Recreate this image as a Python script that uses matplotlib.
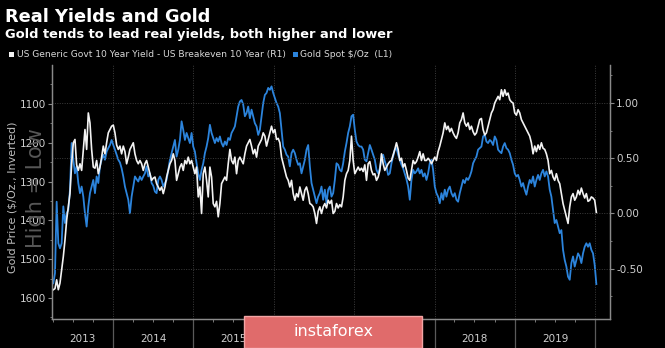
import numpy as np
import pandas as pd
import matplotlib
matplotlib.use("Agg")
import matplotlib.pyplot as plt
import matplotlib.dates as mdates
from matplotlib.patches import Rectangle
from matplotlib.ticker import FixedLocator, FormatStrFormatter, NullFormatter

plt.rcParams['axes.unicode_minus'] = False
plt.rcParams['font.family'] = ['DejaVu Sans']

# ---------------- data ----------------
start_date = '2013-04-04'
end_date = '2020-01-06'

gold = [
    1562, 1536, 1352, 1459, 1472, 1459, 1364, 1407, 1382, 1373,
    1321, 1201, 1244, 1279, 1261, 1304, 1330, 1313, 1339, 1382,
    1416, 1364, 1330, 1313, 1296, 1330, 1287, 1304, 1261, 1244,
    1231, 1244, 1223, 1214, 1206, 1193, 1206, 1218, 1231, 1244,
    1251, 1266, 1287, 1313, 1330, 1347, 1382, 1339, 1313, 1287,
    1294, 1300,
    1287, 1296, 1287, 1279, 1261, 1287, 1279, 1304, 1311, 1326,
    1330, 1296, 1287, 1296, 1313, 1304, 1296, 1270, 1244, 1227,
    1210, 1193, 1236, 1218, 1193, 1145, 1167, 1193, 1175, 1188,
    1201, 1175, 1210, 1223, 1253, 1279, 1296, 1270, 1253, 1227,
    1210, 1188, 1154, 1175, 1188, 1201, 1188, 1197, 1184, 1201,
    1210, 1197, 1206, 1188,
    1193, 1175, 1167, 1158, 1132, 1107, 1094, 1090, 1102, 1132,
    1124, 1107, 1137, 1115, 1132, 1150, 1158, 1180, 1167, 1132,
    1098, 1077, 1072, 1059, 1064, 1055, 1072, 1085, 1098, 1107,
    1124, 1167, 1210, 1218, 1231, 1236, 1261, 1227, 1218, 1227,
    1244, 1257, 1253, 1279, 1261, 1244, 1218, 1206, 1261, 1304,
    1321, 1339, 1356, 1339,
    1330, 1313, 1347, 1321, 1356, 1321, 1313, 1339, 1330, 1296,
    1253, 1257, 1270, 1274, 1253, 1223, 1201, 1175, 1158, 1132,
    1128, 1167, 1197, 1206, 1210, 1210, 1218, 1244, 1248, 1227,
    1206, 1218, 1231, 1244, 1270, 1279, 1266, 1244, 1231, 1248,
    1261, 1283, 1279, 1253, 1236, 1218, 1214, 1231, 1244, 1257,
    1266, 1280, 1294, 1313,
    1347, 1296, 1270, 1279, 1274, 1266, 1279, 1270, 1287, 1279,
    1296, 1279, 1253, 1244, 1270, 1313, 1330, 1339, 1356, 1330,
    1347, 1321, 1339, 1321, 1313, 1330, 1339, 1330, 1347, 1352,
    1330, 1313, 1296, 1304, 1291, 1296, 1287, 1274, 1253, 1244,
    1236, 1218, 1214, 1210, 1184, 1180, 1197, 1201, 1193, 1197,
    1206, 1184, 1193, 1218,
    1223, 1227, 1210, 1201, 1214, 1218, 1227, 1244, 1257, 1279,
    1287, 1283, 1296, 1313, 1304, 1321, 1334, 1313, 1296, 1304,
    1287, 1313, 1296, 1283, 1296, 1279, 1270, 1287, 1274, 1287,
    1321, 1339, 1373, 1407, 1399, 1416, 1433, 1425, 1476, 1502,
    1519, 1545, 1553, 1510, 1493, 1519, 1502, 1485, 1493, 1510,
    1485, 1468, 1459, 1468, 1459, 1476, 1485, 1515, 1564,
]

real_yield = [
    -0.69, -0.68, -0.60, -0.69, -0.63, -0.51, -0.39, -0.24, -0.06, 0.06,
    0.18, 0.45, 0.64, 0.67, 0.44, 0.39, 0.45, 0.39, 0.58, 0.76,
    0.58, 0.91, 0.82, 0.58, 0.42, 0.41, 0.48, 0.36, 0.42, 0.51,
    0.61, 0.54, 0.64, 0.73, 0.76, 0.79, 0.80, 0.73, 0.62, 0.58,
    0.61, 0.54, 0.61, 0.56, 0.45, 0.51, 0.58, 0.61, 0.64, 0.54,
    0.48, 0.45,
    0.48, 0.45, 0.39, 0.45, 0.48, 0.42, 0.36, 0.30, 0.32, 0.33,
    0.27, 0.24, 0.21, 0.24, 0.18, 0.24, 0.33, 0.39, 0.45, 0.48,
    0.54, 0.48, 0.30, 0.36, 0.42, 0.45, 0.39, 0.48, 0.45, 0.51,
    0.45, 0.48, 0.42, 0.36, 0.42, 0.15, 0.24, 0.00, 0.36, 0.42,
    0.30, 0.15, 0.42, 0.33, 0.09, 0.06, 0.11, -0.03, 0.09, 0.27,
    0.30, 0.33, 0.30, 0.45,
    0.58, 0.48, 0.45, 0.51, 0.36, 0.48, 0.51, 0.48, 0.45, 0.54,
    0.61, 0.64, 0.67, 0.61, 0.54, 0.58, 0.51, 0.61, 0.64, 0.67,
    0.73, 0.70, 0.61, 0.67, 0.73, 0.79, 0.73, 0.76, 0.67, 0.68,
    0.64, 0.51, 0.45, 0.39, 0.33, 0.30, 0.24, 0.30, 0.18, 0.12,
    0.18, 0.15, 0.24, 0.18, 0.12, 0.21, 0.24, 0.18, 0.09, 0.08,
    0.06, 0.00, -0.09, 0.02,
    0.06, 0.00, 0.06, 0.09, 0.05, 0.12, 0.09, 0.12, 0.00, 0.02,
    0.09, 0.05, 0.08, 0.06, 0.15, 0.30, 0.36, 0.39, 0.48, 0.70,
    0.48, 0.36, 0.39, 0.42, 0.39, 0.41, 0.38, 0.44, 0.30, 0.45,
    0.47, 0.39, 0.35, 0.36, 0.30, 0.33, 0.39, 0.54, 0.45, 0.39,
    0.42, 0.45, 0.47, 0.48, 0.53, 0.58, 0.64, 0.58, 0.48, 0.50,
    0.42, 0.45, 0.39, 0.32,
    0.30, 0.39, 0.48, 0.45, 0.47, 0.51, 0.56, 0.48, 0.54, 0.48,
    0.48, 0.50, 0.48, 0.45, 0.48, 0.51, 0.48, 0.56, 0.61, 0.67,
    0.73, 0.82, 0.76, 0.79, 0.74, 0.77, 0.73, 0.70, 0.68, 0.73,
    0.82, 0.85, 0.91, 0.82, 0.79, 0.82, 0.76, 0.79, 0.74, 0.71,
    0.73, 0.79, 0.85, 0.86, 0.76, 0.71, 0.73, 0.79, 0.85, 0.91,
    0.94, 1.00, 1.03, 1.06,
    1.03, 1.12, 1.06, 1.12, 1.07, 1.09, 1.03, 1.01, 1.00, 0.91,
    0.89, 0.94, 0.91, 0.85, 0.82, 0.79, 0.76, 0.73, 0.70, 0.64,
    0.54, 0.61, 0.56, 0.62, 0.58, 0.64, 0.59, 0.58, 0.54, 0.48,
    0.36, 0.39, 0.33, 0.30, 0.36, 0.30, 0.27, 0.18, 0.09, 0.03,
    -0.03, -0.09, 0.06, 0.15, 0.18, 0.12, 0.15, 0.21, 0.17, 0.23,
    0.18, 0.14, 0.18, 0.11, 0.12, 0.15, 0.14, 0.12, 0.01,
]

gold_ticks = [1100, 1200, 1300, 1400, 1500, 1600]
yield_ticks = [-0.50, 0.00, 0.50, 1.00]
year_labels = ['2013', '2014', '2015', '2016', '2017', '2018', '2019']

title = 'Real Yields and Gold'
subtitle = 'Gold tends to lead real yields, both higher and lower'
legend_white = 'US Generic Govt 10 Year Yield - US Breakeven 10 Year (R1)'
legend_blue = 'Gold Spot $/Oz  (L1)'

gold_dates = pd.date_range(start_date, end_date, periods=len(gold))
yield_dates = pd.date_range(start_date, end_date, periods=len(real_yield))

# ---------------- style ----------------
BG = '#000000'
BLUE = '#2C84DC'
WHITE = '#F2F2F2'
TICK = '#CFCFCF'
SPINE = '#8A8A8A'
GRID = '#3C3C3C'

W, H = 665, 348
fig = plt.figure(figsize=(W / 100, H / 100), dpi=100, facecolor=BG)

x0, x1, y0, y1 = 52, 610, 65, 319
ax = fig.add_axes([x0 / W, 1 - y1 / H, (x1 - x0) / W, (y1 - y0) / H])
ax.set_facecolor(BG)
ax2 = ax.twinx()

ax.plot(gold_dates, gold, color=BLUE, lw=1.3, solid_joinstyle='round')
ax2.plot(yield_dates, real_yield, color=WHITE, lw=1.2, solid_joinstyle='round')

ax.set_xlim(pd.Timestamp('2013-03-29'), pd.Timestamp('2020-03-08'))
ax.set_ylim(1654, 1000)
ax2.set_ylim(-0.955, 1.344)

# spines
for a in (ax, ax2):
    for s in a.spines.values():
        s.set_color(SPINE)
        s.set_linewidth(0.9)
    a.spines['top'].set_visible(False)

# y axes
ax.yaxis.set_major_locator(FixedLocator(gold_ticks))
ax.yaxis.set_minor_locator(FixedLocator([1050, 1150, 1250, 1350, 1450, 1550, 1650]))
ax.tick_params(axis='y', which='major', colors=SPINE, labelcolor=TICK,
               labelsize=7.5, length=3, width=0.8, pad=1)
ax.tick_params(axis='y', which='minor', colors=SPINE, length=1.5, width=0.6)

ax2.yaxis.set_major_locator(FixedLocator(yield_ticks))
ax2.yaxis.set_minor_locator(FixedLocator([-0.75, -0.25, 0.25, 0.75, 1.25]))
ax2.yaxis.set_major_formatter(FormatStrFormatter('%.2f'))
ax2.tick_params(axis='y', which='major', colors=SPINE, labelcolor=TICK,
                labelsize=7.5, length=3, width=0.8, pad=1.5)
ax2.tick_params(axis='y', which='minor', colors=SPINE, length=1.5, width=0.6)
ax2.grid(axis='y', which='major', color=GRID, linestyle=(0, (1, 1.5)), lw=0.7)

# x axis
ax.xaxis.set_major_locator(mdates.YearLocator())
ax.xaxis.set_minor_locator(mdates.MonthLocator(bymonth=(4, 7, 10)))
ax.xaxis.set_major_formatter(NullFormatter())
ax.xaxis.set_minor_formatter(NullFormatter())
ax.tick_params(axis='x', which='major', colors='#5A5A5A', length=22, width=0.9)
ax.tick_params(axis='x', which='minor', colors=SPINE, length=2.5, width=0.6)
ax.grid(axis='x', which='major', color=GRID, linestyle=(0, (1, 1.5)), lw=0.7)

# year labels centred in each year span
xl = ax.get_xlim()
for lab in year_labels:
    y = int(lab)
    a = max(mdates.date2num(pd.Timestamp(f'{y}-01-01')), xl[0])
    b = min(mdates.date2num(pd.Timestamp(f'{y + 1}-01-01')), xl[1])
    ax.text((a + b) / 2, -0.08, lab, transform=ax.get_xaxis_transform(),
            ha='center', va='center', color=TICK, fontsize=7.5)

# ylabel + watermark
fig.text(13 / W, 1 - 197 / H, 'Gold Price ($/Oz., Inverted)', rotation=90,
         ha='center', va='center', color='#BDBDBD', fontsize=8)
fig.text(36 / W, 1 - 188 / H, 'High = Low', rotation=90, ha='center',
         va='center', color='#575757', fontsize=15, zorder=0)

# titles
fig.text(5 / W, 1 - 22 / H, title, ha='left', va='baseline', color='white',
         fontsize=12.8, fontweight='bold')
fig.text(5 / W, 1 - 38 / H, subtitle, ha='left', va='baseline', color='white',
         fontsize=9.4, fontweight='bold')

# legend
fig.patches.append(Rectangle((9 / W, 1 - 57 / H), 5 / W, 5 / H, transform=fig.transFigure,
                             facecolor=WHITE, edgecolor='none'))
fig.text(17 / W, 1 - 54.5 / H, legend_white, ha='left', va='center',
         color='#D8D8D8', fontsize=6.55)
fig.patches.append(Rectangle((293 / W, 1 - 57 / H), 5 / W, 5 / H, transform=fig.transFigure,
                             facecolor=BLUE, edgecolor='none'))
fig.text(300 / W, 1 - 54.5 / H, legend_blue, ha='left', va='center',
         color='#D8D8D8', fontsize=6.55)

# instaforex badge
fig.patches.append(Rectangle((244 / W, 0), (422 - 244) / W, (348 - 316) / H,
                             transform=fig.transFigure, facecolor='#E06B6B',
                             edgecolor='#F3A5A5', lw=1, zorder=10))
fig.text(333 / W, 1 - 332 / H, 'instaforex', ha='center', va='center',
         color='white', fontsize=11.5, zorder=11)

fig.savefig('out.png', dpi=100, facecolor=BG)
